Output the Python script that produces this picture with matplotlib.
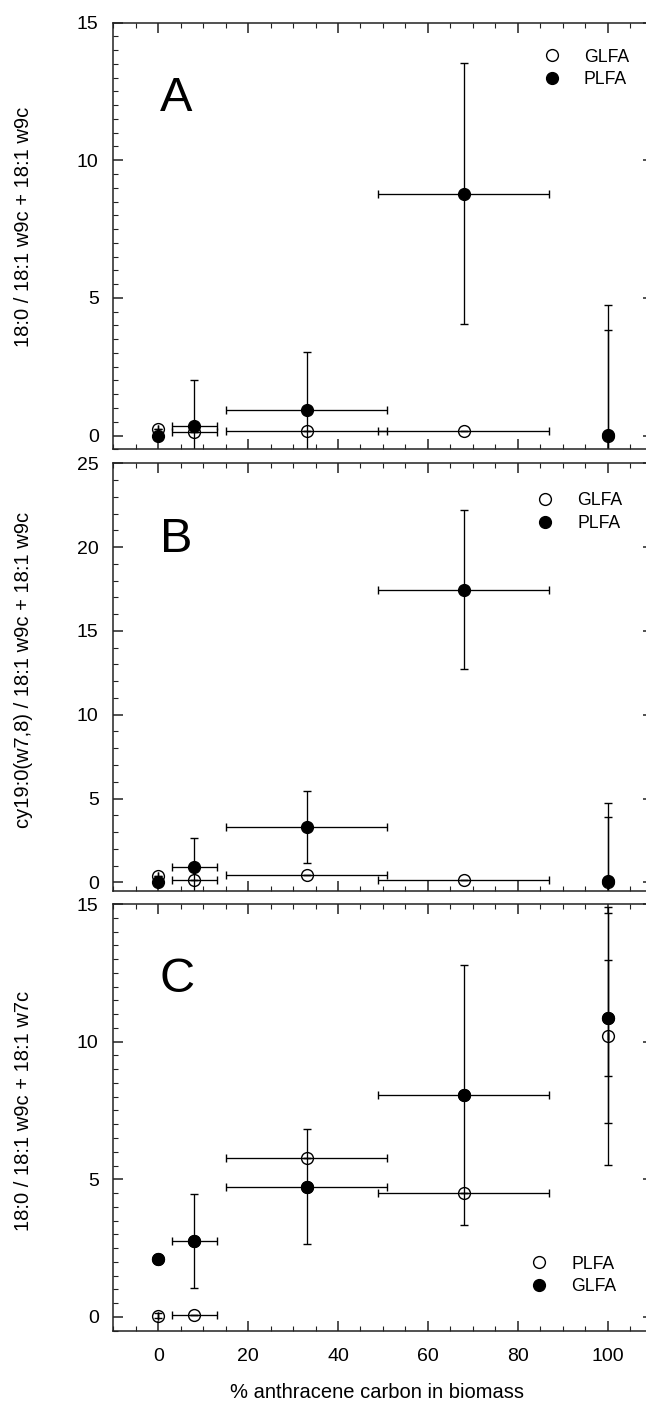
import matplotlib
matplotlib.use('Agg')
import matplotlib.pyplot as plt
from matplotlib.lines import Line2D
from matplotlib.ticker import MultipleLocator

plt.rcParams['font.family'] = ['Liberation Sans', 'DejaVu Sans']

# % anthracene carbon in biomass
x = [0, 8, 33, 68, 100]
x_err = [0, 5, 18, 19, 0]

# panel A: 18:0 / 18:1 w9c + 18:1 w9c
a_glfa = [0.24, 0.12, 0.18, 0.18, 0.0]
a_glfa_err = [0, 0, 0, 0, 3.84]
a_plfa = [0.0, 0.34, 0.93, 8.78, 0.03]
a_plfa_err = [0, 1.69, 2.1, 4.74, 4.72]

# panel B: cy19:0(w7,8) / 18:1 w9c + 18:1 w9c
b_glfa = [0.36, 0.14, 0.46, 0.14, 0.0]
b_glfa_err = [0, 0, 0, 0, 3.92]
b_plfa = [0.03, 0.9, 3.32, 17.47, 0.08]
b_plfa_err = [0, 1.75, 2.15, 4.75, 4.66]

# panel C: 18:0 / 18:1 w9c + 18:1 w7c
c_plfa = [0.05, 0.06, 5.79, 4.49, 10.2]
c_plfa_err = [0.1, 0, 0, 0, 4.68]
c_glfa = [2.09, 2.75, 4.73, 8.05, 10.86]
c_glfa_err = [0, 1.7, 2.08, 4.72, 3.83]
c_glfa_err2 = [0, 0, 0, 0, 2.1]

ylabels = ['18:0 / 18:1 w9c + 18:1 w9c',
           'cy19:0(w7,8) / 18:1 w9c + 18:1 w9c',
           '18:0 / 18:1 w9c + 18:1 w7c']
letters = ['A', 'B', 'C']

fig = plt.figure(figsize=(6.46, 14.04), dpi=100)
ax_a = fig.add_axes([0.1754, 0.6800, 0.8347, 0.3039])
ax_b = fig.add_axes([0.1754, 0.3656, 0.8347, 0.3044])
ax_c = fig.add_axes([0.1754, 0.0522, 0.8347, 0.3039])
axes = [ax_a, ax_b, ax_c]

eb = dict(ls='none', marker='o', ms=8.5, color='black', ecolor='black',
          elinewidth=0.95, capsize=3.2, capthick=0.95, mew=1.0)

# open circles first, filled on top
ax_a.errorbar(x, a_glfa, yerr=a_glfa_err, xerr=x_err, mfc='none', **eb)
ax_a.errorbar(x, a_plfa, yerr=a_plfa_err, xerr=x_err, mfc='black', **eb)

ax_b.errorbar(x, b_glfa, yerr=b_glfa_err, xerr=x_err, mfc='none', **eb)
ax_b.errorbar(x, b_plfa, yerr=b_plfa_err, xerr=x_err, mfc='black', **eb)

ax_c.errorbar(x, c_plfa, yerr=c_plfa_err, xerr=x_err, mfc='none', **eb)
ax_c.errorbar(x, c_glfa, yerr=c_glfa_err2, mfc='black', **eb)
ax_c.errorbar(x, c_glfa, yerr=c_glfa_err, xerr=x_err, mfc='black', **eb)

ax_a.set_ylim(-0.5, 15)
ax_b.set_ylim(-0.5, 25)
ax_c.set_ylim(-0.5, 15)
minors = [0.5, 1, 0.5]

for i, ax in enumerate(axes):
    ax.set_xlim(-10, 110)
    ax.xaxis.set_major_locator(MultipleLocator(20))
    ax.xaxis.set_minor_locator(MultipleLocator(5))
    ax.yaxis.set_major_locator(MultipleLocator(5))
    ax.yaxis.set_minor_locator(MultipleLocator(minors[i]))
    ax.tick_params(which='both', direction='in', top=True, right=True,
                   colors='#222222', labelcolor='black')
    ax.tick_params(which='major', length=7.2, width=1.1, labelsize=14)
    ax.tick_params(which='minor', length=3.8, width=0.8)
    ax.tick_params(axis='y', pad=10.5)
    ax.tick_params(axis='x', pad=12.5)
    if i < 2:
        ax.tick_params(axis='x', labelbottom=False)
    for s in ax.spines.values():
        s.set_linewidth(1.1)
        s.set_color('#222222')
    ax.text(0.086, 0.793, letters[i], transform=ax.transAxes, fontsize=35,
            ha='left', va='baseline')

open_h = Line2D([], [], ls='none', marker='o', ms=8.5, mfc='none', mec='black', mew=1.0)
fill_h = Line2D([], [], ls='none', marker='o', ms=8.5, mfc='black', mec='black')
leg = dict(frameon=False, fontsize=12.7, loc='upper left', borderpad=0,
           borderaxespad=0, handlelength=1.0, handletextpad=1.3, labelspacing=0.33)
ax_a.legend([open_h, fill_h], ['GLFA', 'PLFA'], bbox_to_anchor=(0.797, 0.939), **leg)
ax_b.legend([open_h, fill_h], ['GLFA', 'PLFA'], bbox_to_anchor=(0.785, 0.933), **leg)
ax_c.legend([open_h, fill_h], ['PLFA', 'GLFA'], bbox_to_anchor=(0.774, 0.176), **leg)

label_y = [227, 670, 1111]
for i in range(3):
    fig.text(23.7 / 646, 1 - label_y[i] / 1404, ylabels[i], rotation=90,
             ha='center', va='center', fontsize=14.5)

fig.text(377 / 646, 1 - 1398 / 1404, '% anthracene carbon in biomass',
         ha='center', va='baseline', fontsize=14.5)

fig.savefig('out.png', dpi=100)
